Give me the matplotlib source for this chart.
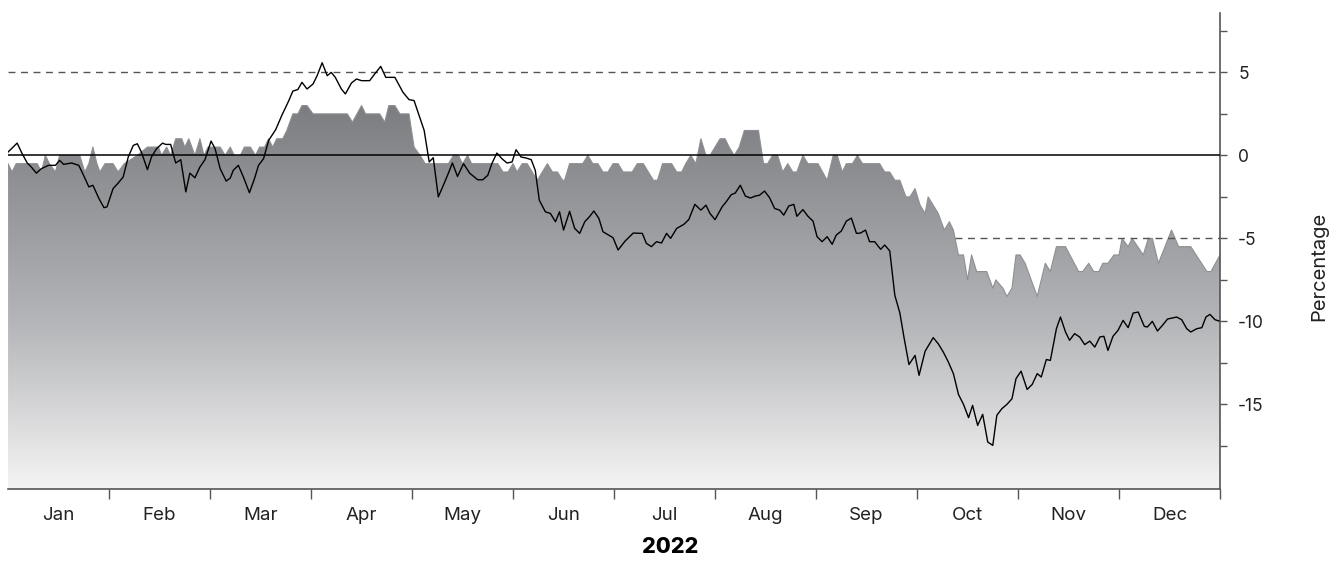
import numpy as np
import matplotlib.pyplot as plt
from matplotlib.colors import LinearSegmentedColormap

plt.rcParams['font.family'] = ['Inter', 'DejaVu Sans']
plt.rcParams['axes.unicode_minus'] = False

months = ['Jan', 'Feb', 'Mar', 'Apr', 'May', 'Jun',
          'Jul', 'Aug', 'Sep', 'Oct', 'Nov', 'Dec']

# Black line: x in months since 1 Jan 2022, y in percent
line_x = [0.00, 0.09, 0.14, 0.19, 0.23, 0.28, 0.33, 0.40, 0.47, 0.51, 0.55, 0.63,
          0.70, 0.74, 0.80, 0.84, 0.90, 0.95, 0.98, 1.04, 1.09, 1.14, 1.19, 1.24,
          1.28, 1.32, 1.38, 1.42, 1.47, 1.53, 1.56, 1.61, 1.66, 1.71, 1.76, 1.80,
          1.85, 1.90, 1.95, 2.01, 2.05, 2.10, 2.16, 2.20, 2.23, 2.28, 2.33, 2.39,
          2.44, 2.48, 2.53, 2.58, 2.65, 2.71, 2.78, 2.82, 2.87, 2.91, 2.96, 3.02,
          3.06, 3.11, 3.16, 3.20, 3.24, 3.30, 3.34, 3.40, 3.45, 3.50, 3.58, 3.63,
          3.69, 3.74, 3.83, 3.91, 3.97, 4.02, 4.07, 4.12, 4.17, 4.21, 4.26, 4.31,
          4.36, 4.40, 4.45, 4.51, 4.57, 4.65, 4.70, 4.75, 4.79, 4.84, 4.89, 4.94,
          4.99, 5.03, 5.08, 5.13, 5.18, 5.22, 5.26, 5.32, 5.37, 5.42, 5.46, 5.50,
          5.56, 5.61, 5.66, 5.71, 5.76, 5.80, 5.85, 5.89, 5.99, 6.04, 6.11, 6.19,
          6.28, 6.32, 6.37, 6.42, 6.47, 6.52, 6.56, 6.62, 6.69, 6.74, 6.80, 6.86,
          6.91, 6.95, 7.00, 7.07, 7.11, 7.16, 7.20, 7.25, 7.30, 7.35, 7.40, 7.44,
          7.49, 7.54, 7.59, 7.64, 7.68, 7.73, 7.78, 7.81, 7.87, 7.92, 7.97, 8.01,
          8.06, 8.11, 8.16, 8.20, 8.25, 8.30, 8.35, 8.40, 8.44, 8.49, 8.53, 8.58,
          8.64, 8.68, 8.73, 8.78, 8.83, 8.87, 8.92, 8.98, 9.02, 9.08, 9.16, 9.21,
          9.26, 9.31, 9.36, 9.41, 9.46, 9.51, 9.55, 9.60, 9.65, 9.70, 9.75, 9.79,
          9.84, 9.89, 9.94, 9.98, 10.03, 10.09, 10.14, 10.19, 10.23, 10.28, 10.32, 10.38,
          10.42, 10.47, 10.51, 10.56, 10.61, 10.66, 10.71, 10.76, 10.81, 10.85, 10.89, 10.94,
          10.99, 11.04, 11.09, 11.14, 11.19, 11.25, 11.28, 11.33, 11.38, 11.43, 11.48, 11.57,
          11.62, 11.67, 11.71, 11.77, 11.82, 11.86, 11.90, 11.95, 11.99]
line_y = [0.2, 0.74, 0.1, -0.46, -0.7, -1.07, -0.8, -0.6, -0.6, -0.3, -0.54, -0.46,
          -0.6, -1.1, -1.9, -1.8, -2.6, -3.15, -3.1, -2.0, -1.67, -1.3, -0.1, 0.6,
          0.7, 0.2, -0.86, -0.1, 0.4, 0.74, 0.66, 0.66, -0.46, -0.26, -2.2, -1.07,
          -1.35, -0.7, -0.26, 0.86, 0.4, -0.8, -1.55, -1.37, -0.9, -0.6, -1.3, -2.25,
          -1.4, -0.6, -0.2, 0.9, 1.55, 2.4, 3.3, 3.87, 3.97, 4.4, 4.0, 4.3,
          4.8, 5.58, 4.8, 5.0, 4.7, 4.0, 3.7, 4.36, 4.6, 4.5, 4.5, 4.9,
          5.36, 4.7, 4.7, 3.8, 3.36, 3.3, 2.4, 1.5, -0.4, -0.14, -2.5, -1.8,
          -1.07, -0.46, -1.27, -0.5, -1.07, -1.47, -1.47, -1.2, -0.5, 0.14, -0.2, -0.46,
          -0.4, 0.34, -0.1, -0.16, -0.26, -0.9, -2.7, -3.4, -3.5, -4.0, -3.4, -4.5,
          -3.37, -4.4, -4.7, -4.0, -3.67, -3.35, -3.8, -4.6, -4.96, -5.7, -5.16, -4.68,
          -4.7, -5.3, -5.5, -5.2, -5.28, -4.7, -5.0, -4.4, -4.16, -3.87, -2.95, -3.3,
          -3.0, -3.5, -3.87, -3.1, -2.8, -2.37, -2.27, -1.8, -2.45, -2.57, -2.45, -2.4,
          -2.15, -2.55, -3.2, -3.3, -3.6, -3.05, -2.95, -3.67, -3.27, -3.67, -3.96, -4.9,
          -5.2, -4.9, -5.36, -4.8, -4.56, -3.96, -3.78, -4.7, -4.68, -4.5, -5.2, -5.2,
          -5.66, -5.4, -5.76, -8.43, -9.5, -10.94, -12.6, -12.05, -13.25, -11.8, -10.98, -11.35,
          -11.85, -12.45, -13.15, -14.4, -15.0, -15.8, -15.06, -16.27, -15.6, -17.27, -17.47, -15.66,
          -15.26, -15.0, -14.66, -13.45, -13.0, -14.1, -13.8, -13.15, -13.35, -12.3, -12.35, -10.44,
          -9.74, -10.64, -11.14, -10.74, -10.94, -11.4, -11.19, -11.55, -10.94, -10.9, -11.75, -10.9,
          -10.54, -9.94, -10.38, -9.5, -9.44, -10.3, -10.34, -10.0, -10.58, -10.24, -9.86, -9.74,
          -9.9, -10.44, -10.64, -10.44, -10.38, -9.74, -9.58, -9.9, -9.98]

# Grey area series (0.5 % steps)
area_x = [0.00, 0.04, 0.08, 0.29, 0.33, 0.37, 0.41, 0.47, 0.51, 0.71, 0.76, 0.80,
          0.84, 0.88, 0.91, 0.96, 1.04, 1.09, 1.15, 1.28, 1.38, 1.49, 1.52, 1.57,
          1.61, 1.66, 1.72, 1.75, 1.79, 1.85, 1.90, 1.94, 1.98, 2.10, 2.15, 2.20,
          2.24, 2.30, 2.34, 2.40, 2.45, 2.49, 2.54, 2.58, 2.62, 2.66, 2.72, 2.76,
          2.82, 2.87, 2.91, 2.96, 3.02, 3.36, 3.41, 3.50, 3.54, 3.68, 3.73, 3.77,
          3.83, 3.88, 3.97, 4.02, 4.08, 4.13, 4.36, 4.41, 4.46, 4.50, 4.55, 4.59,
          4.85, 4.90, 4.95, 5.00, 5.04, 5.09, 5.14, 5.19, 5.24, 5.29, 5.34, 5.39,
          5.44, 5.49, 5.51, 5.56, 5.69, 5.74, 5.79, 5.84, 5.89, 5.94, 5.99, 6.04,
          6.09, 6.18, 6.23, 6.29, 6.34, 6.39, 6.43, 6.48, 6.57, 6.62, 6.67, 6.71,
          6.76, 6.81, 6.86, 6.91, 6.95, 7.00, 7.05, 7.10, 7.14, 7.19, 7.24, 7.29,
          7.43, 7.48, 7.52, 7.57, 7.62, 7.67, 7.72, 7.77, 7.81, 7.87, 7.92, 8.02,
          8.11, 8.17, 8.21, 8.26, 8.30, 8.36, 8.41, 8.46, 8.63, 8.68, 8.73, 8.78,
          8.83, 8.89, 8.93, 8.98, 9.03, 9.08, 9.11, 9.16, 9.21, 9.27, 9.32, 9.36,
          9.41, 9.46, 9.50, 9.54, 9.59, 9.69, 9.75, 9.78, 9.85, 9.89, 9.94, 9.98,
          10.02, 10.07, 10.19, 10.27, 10.32, 10.38, 10.47, 10.60, 10.64, 10.70, 10.75, 10.80,
          10.84, 10.89, 10.95, 11.00, 11.03, 11.09, 11.13, 11.24, 11.29, 11.33, 11.39, 11.52,
          11.59, 11.71, 11.87, 11.91, 12.00]
area_y = [-0.5, -1.0, -0.5, -0.5, -1.0, 0.0, -0.5, -1.0, 0.0, 0.0, -1.0, -0.5,
          0.5, -0.5, -1.0, -0.5, -0.5, -1.0, -0.5, 0.0, 0.5, 0.5, 0.0, 0.5,
          0.0, 1.0, 1.0, 0.5, 1.0, 0.0, 1.0, 0.0, 0.5, 0.5, 0.0, 0.5,
          0.0, 0.0, 0.5, 0.5, 0.0, 0.5, 0.5, 1.0, 0.5, 1.0, 1.0, 1.5,
          2.5, 2.5, 3.0, 3.0, 2.5, 2.5, 2.0, 3.0, 2.5, 2.5, 2.0, 3.0,
          3.0, 2.5, 2.5, 0.5, 0.0, -0.5, -0.5, 0.0, 0.0, -0.5, 0.0, -0.5,
          -0.5, -1.0, -1.0, -0.5, -1.0, -0.5, -0.5, -1.0, -1.5, -1.0, -0.5, -1.0,
          -1.0, -1.5, -1.5, -0.5, -0.5, 0.0, -0.5, -0.5, -1.0, -1.0, -0.5, -0.5,
          -1.0, -1.0, -0.5, -0.5, -1.0, -1.5, -1.5, -0.5, -0.5, -1.0, -1.0, -0.5,
          0.0, -0.5, 1.0, 0.0, 0.0, 0.5, 1.0, 1.0, 0.5, 0.0, 0.5, 1.5,
          1.5, -0.5, -0.5, 0.0, 0.0, -1.0, -0.5, -1.0, -1.0, 0.0, -0.5, -0.5,
          -1.5, 0.0, 0.0, -1.0, -0.5, -0.5, 0.0, -0.5, -0.5, -1.0, -1.0, -1.5,
          -1.5, -2.5, -2.5, -2.0, -3.0, -3.5, -2.5, -3.0, -3.5, -4.5, -4.0, -4.5,
          -6.0, -6.0, -7.5, -6.0, -7.0, -7.0, -8.0, -7.5, -8.0, -8.5, -8.0, -6.0,
          -6.0, -6.5, -8.5, -6.5, -7.0, -5.5, -5.5, -7.0, -7.0, -6.5, -7.0, -7.0,
          -6.5, -6.5, -6.0, -6.0, -5.0, -5.5, -5.0, -6.0, -5.0, -5.0, -6.5, -4.5,
          -5.5, -5.5, -7.0, -7.0, -6.0]

upper_ref = 5
lower_ref = -5
lower_ref_start = 9.38
y_min, y_max = -20.1, 8.6

fig = plt.figure(figsize=(13.41, 5.63), dpi=100)
ax = fig.add_axes([0.006, 0.1314, 0.9038, 0.8462])

# gradient filled area
poly = ax.fill_between(area_x, area_y, y_min, facecolor='none', edgecolor='none')
cmap = LinearSegmentedColormap.from_list(
    'greys', [(0.0, '#f4f4f4'), (0.437, '#b4b5b8'), (1.0, '#7c7d81')])
grad = np.linspace(0, 1, 256).reshape(-1, 1)
im = ax.imshow(grad, extent=[0, 12, y_min, 3.0], origin='lower', aspect='auto',
               cmap=cmap, zorder=1)
im.set_clip_path(poly.get_paths()[0], transform=ax.transData)
ax.plot(area_x, area_y, color='#8e8f92', lw=0.8, zorder=2)

# reference lines
ax.axhline(0, color='black', lw=1.1, zorder=3)
ax.plot([0, 12], [upper_ref, upper_ref], color='#555555', lw=1, ls=(0, (5, 4)), zorder=3)
ax.plot([lower_ref_start, 12], [lower_ref, lower_ref], color='#555555', lw=1,
        ls=(0, (5, 4)), zorder=3)

ax.plot(line_x, line_y, color='black', lw=1.0, zorder=4)

ax.set_xlim(0, 12)
ax.set_ylim(y_min, y_max)

for s in ['left', 'top']:
    ax.spines[s].set_visible(False)
ax.spines['right'].set_color('#555555')
ax.spines['bottom'].set_color('#555555')
ax.spines['right'].set_linewidth(1.2)
ax.spines['bottom'].set_linewidth(1.2)

ax.yaxis.tick_right()
ax.set_yticks([-15, -10, -5, 0, 5])
ax.set_yticklabels(['-15', '-10', '-5', '0', '5'])
ax.set_yticks([-17.5, -12.5, -7.5, -2.5, 2.5, 7.5], minor=True)
ax.tick_params(axis='y', which='both', length=5, width=1, color='#555555',
               pad=8, labelsize=12.5, labelcolor='#222222')

ax.set_xticks(range(1, 13))
ax.set_xticklabels([])
ax.set_xticks(np.arange(12) + 0.5, minor=True)
ax.set_xticklabels(months, minor=True)
ax.tick_params(axis='x', which='major', length=7, width=1, color='#555555')
ax.tick_params(axis='x', which='minor', length=0, pad=13, labelsize=13.5,
               labelcolor='#222222')

fig.text(0.5, 0.010, '2022', ha='center', va='bottom', fontsize=15.5,
         fontweight='heavy', color='black')
fig.text(0.984, 0.527, 'Percentage', ha='center', va='center', rotation=90,
         fontsize=14.5, color='#222222')

fig.savefig('out.png', dpi=100)
